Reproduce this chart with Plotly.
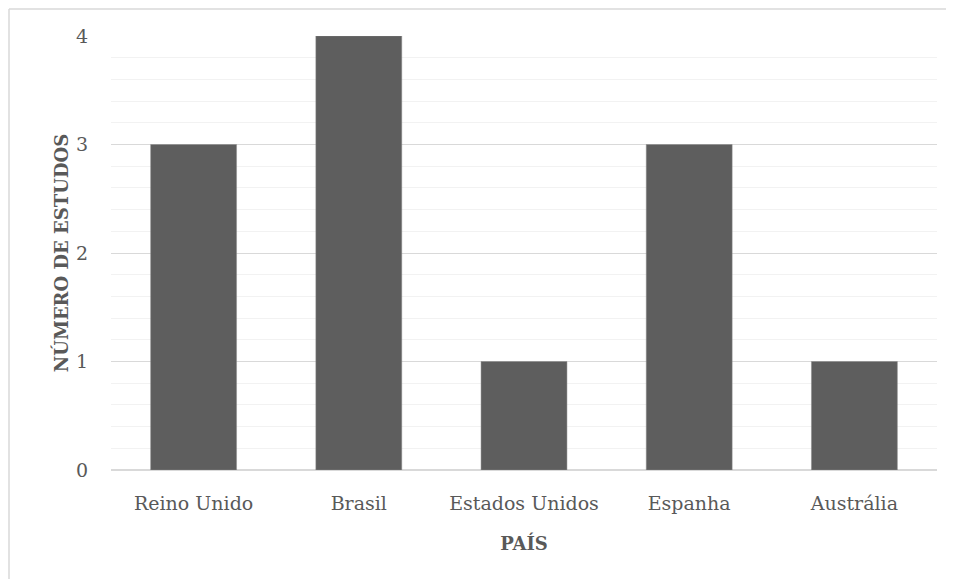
import plotly.graph_objects as go

paises = ["Reino Unido", "Brasil", "Estados Unidos", "Espanha", "Austrália"]
estudos = [3, 4, 1, 3, 1]

FONT = "DejaVu Serif"
TXT = "#595959"

fig = go.Figure(go.Bar(
    x=paises, y=estudos,
    marker=dict(color="#5e5e5e", line=dict(color="#8a8a8a", width=0.5)),
    hoverinfo="skip",
))

# page body has an 8px margin, so the figure is sized/positioned to compensate
W, H = 946, 571
L, R, T, B = 103, 17, 28, 109
pw, ph = W - L - R, H - T - B
fx = -(L - 1) / pw
fy = 1 + (T - 1) / ph

fig.update_layout(
    width=W, height=H,
    margin=dict(l=L, r=R, t=T, b=B),
    paper_bgcolor="white", plot_bgcolor="white",
    bargap=0.48,
    showlegend=False,
    font=dict(family=FONT, color=TXT, size=18),
    shapes=[
        dict(type="line", xref="paper", yref="paper", x0=fx, x1=1.2, y0=fy, y1=fy,
             line=dict(color="#d9d9d9", width=1.5)),
        dict(type="line", xref="paper", yref="paper", x0=fx, x1=fx, y0=fy, y1=-0.3,
             line=dict(color="#d9d9d9", width=1.5)),
    ],
)

fig.update_yaxes(
    range=[0, 4], dtick=1, tick0=0,
    showgrid=True, gridcolor="#d9d9d9", gridwidth=1,
    minor=dict(dtick=0.2, showgrid=True, gridcolor="#f2f2f2", gridwidth=1),
    zeroline=True, zerolinecolor="#d9d9d9", zerolinewidth=1.5,
    showline=False, ticks="",
    ticklabelstandoff=22,
    tickfont=dict(family=FONT, size=19, color=TXT),
    title=dict(text="<b>NÚMERO DE ESTUDOS</b>", font=dict(family=FONT, size=18, color=TXT), standoff=2),
    fixedrange=True,
)
fig.update_xaxes(
    showgrid=False, showline=False, ticks="",
    ticklabelstandoff=20,
    tickfont=dict(family=FONT, size=19, color=TXT),
    title=dict(text="<b>PAÍS</b>", font=dict(family=FONT, size=18, color=TXT), standoff=24),
    fixedrange=True,
)

fig.write_html("out.html", config={"displayModeBar": False})
